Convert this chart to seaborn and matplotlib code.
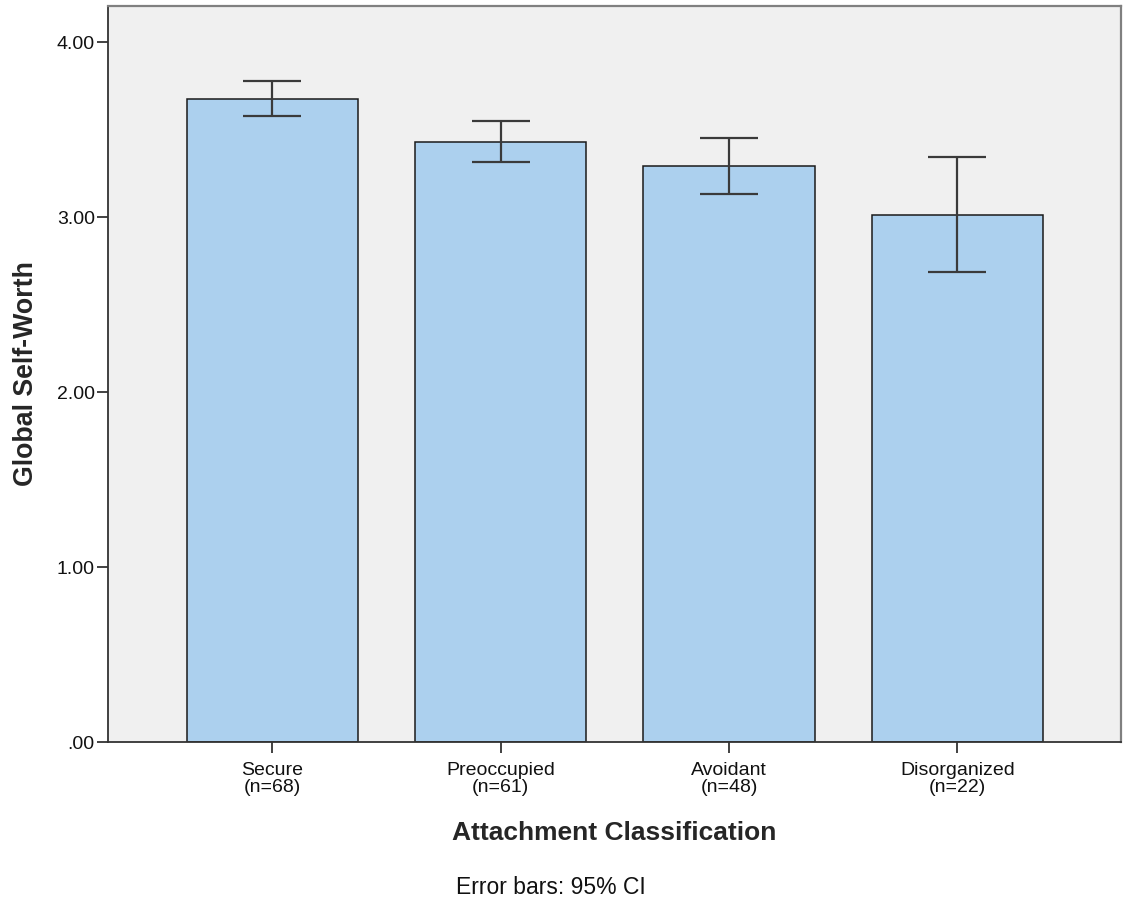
import matplotlib
matplotlib.use('Agg')
import matplotlib.pyplot as plt
from matplotlib.ticker import FuncFormatter
import seaborn as sns
import pandas as pd

groups = ['Secure\n(n=68)', 'Preoccupied\n(n=61)', 'Avoidant\n(n=48)', 'Disorganized\n(n=22)']
means = [3.673, 3.427, 3.289, 3.014]
ci_low = [3.576, 3.312, 3.129, 2.688]
ci_high = [3.776, 3.547, 3.450, 3.341]

df = pd.DataFrame({'group': groups, 'mean': means})

sns.set_style('white')
plt.rcParams['font.family'] = ['Liberation Sans', 'DejaVu Sans']

fig = plt.figure(figsize=(11.25, 9.05), dpi=100)
ax = fig.add_axes([0.096, 0.18, 0.9004, 0.8134])
ax.set_facecolor('#f0f0f0')

sns.barplot(data=df, x='group', y='mean', color='#acd0ee', saturation=1,
            width=0.75, edgecolor='#1a1a1a', linewidth=1.1, errorbar=None, ax=ax)

err = [[m - lo for m, lo in zip(means, ci_low)], [hi - m for m, hi in zip(means, ci_high)]]
ax.errorbar(range(len(groups)), means, yerr=err, fmt='none', ecolor='#3a3a3a',
            elinewidth=1.6, capsize=21, capthick=1.6, zorder=5)

ax.set_xlim(-0.72, 3.716)
ax.set_ylim(0, 4.206)
ax.set_yticks([0, 1, 2, 3, 4])
ax.yaxis.set_major_formatter(FuncFormatter(lambda v, p: ('%.2f' % v).lstrip('0') if v == 0 else '%.2f' % v))

for s in ['left', 'bottom']:
    ax.spines[s].set_color('#333333')
    ax.spines[s].set_linewidth(1.3)
for s in ['top', 'right']:
    ax.spines[s].set_color('#808080')
    ax.spines[s].set_linewidth(1.6)

ax.tick_params(axis='both', which='major', length=8, width=1.3, color='#333333',
               labelsize=14, labelcolor='#111111', direction='out', left=True, bottom=True)
ax.tick_params(axis='x', pad=6.5)
ax.tick_params(axis='y', pad=1.5)
for lbl in ax.get_xticklabels():
    lbl.set_linespacing(0.95)

ax.set_xlabel('Attachment Classification', fontsize=19, fontweight='bold', labelpad=18)
ax.set_ylabel('Global Self-Worth', fontsize=19.3, fontweight='bold', labelpad=13)

fig.text(0.49, 0.019, 'Error bars: 95% CI', ha='center', va='center', fontsize=16.5, color='#111111')

fig.savefig('out.png', dpi=100)
